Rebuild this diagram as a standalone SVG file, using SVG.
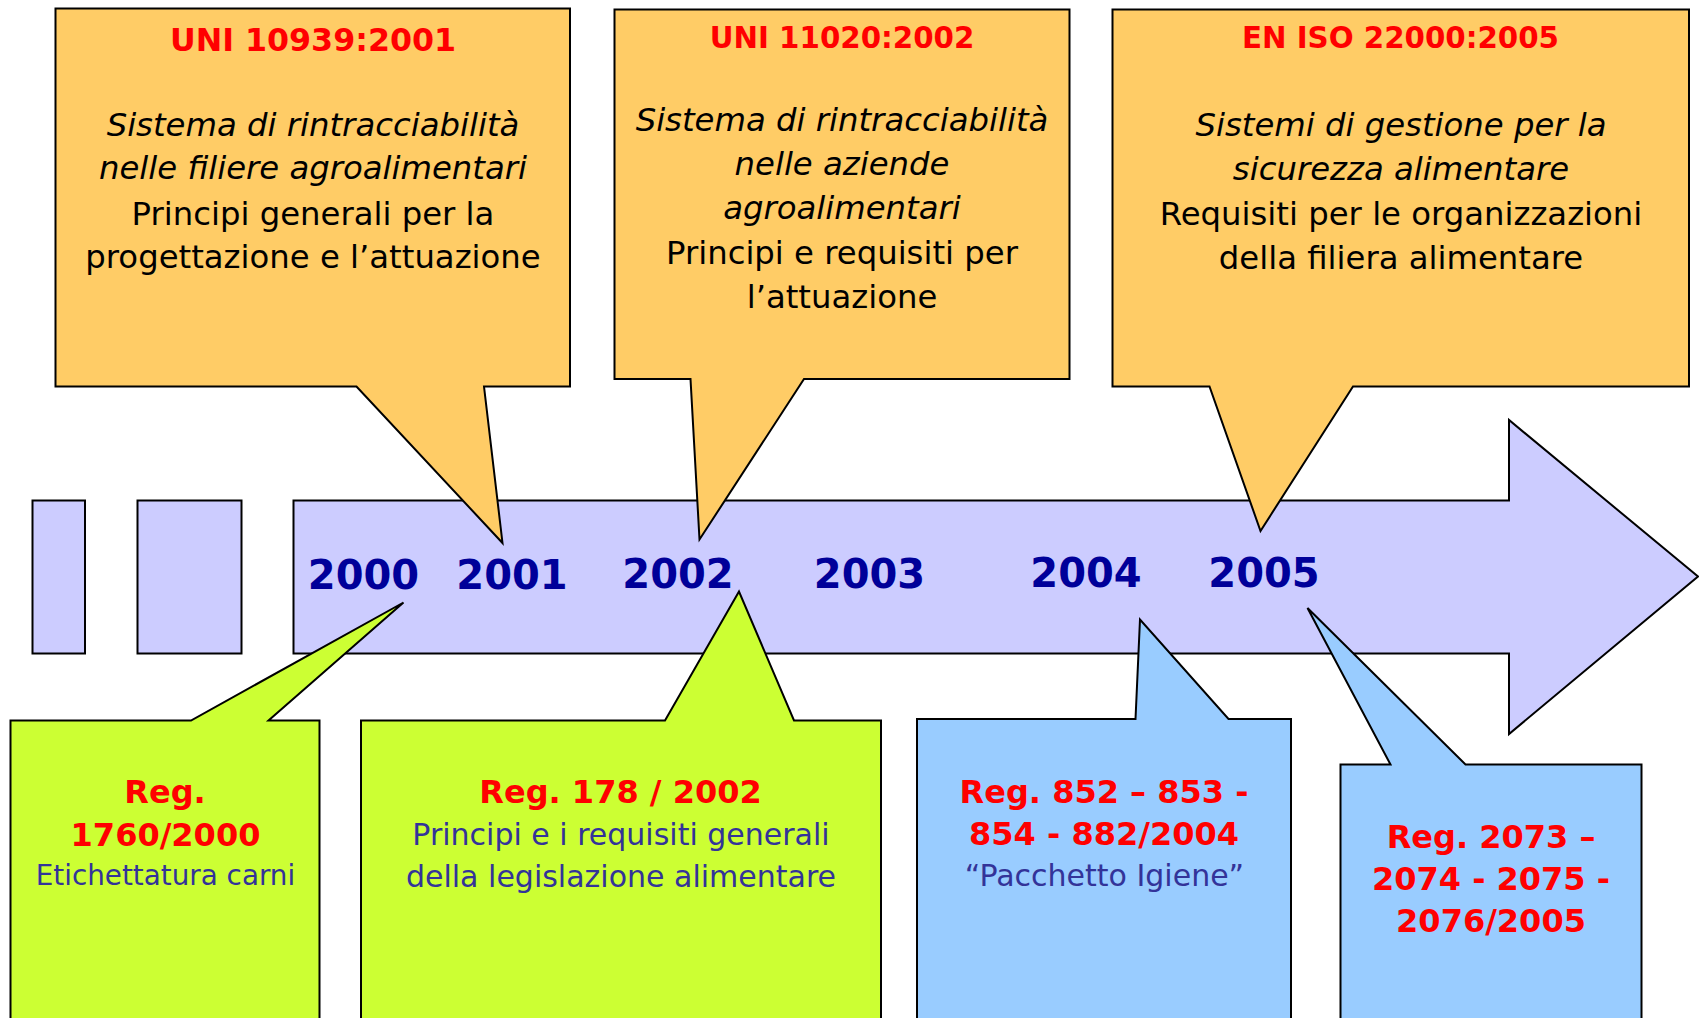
<svg xmlns="http://www.w3.org/2000/svg" width="1699" height="1018" viewBox="0 0 1699 1018">
<style>
  .shape { stroke: #000000; stroke-width: 2; stroke-linejoin: miter; }
  .lav { fill: #CCCCFF; }
  .orange { fill: #FFCC66; }
  .green { fill: #CCFF33; }
  .blue { fill: #99CCFF; }
  text { font-family: "DejaVu Sans", "Verdana", sans-serif; text-anchor: middle; }
  .title { font-weight: bold; fill: #FF0000; }
  .body { font-size: 32.3px; fill: #000000; }
  .it { font-style: italic; }
  .year { font-weight: bold; font-size: 40px; fill: #000099; }
  .red { font-weight: bold; font-size: 32px; fill: #FF0000; }
  .navy { font-size: 30px; fill: #333399; }
</style>
<rect width="1699" height="1018" fill="#FFFFFF"/>

<g id="timeline">
  <rect class="shape lav" x="32.5" y="500.5" width="52.5" height="153"/>
  <rect class="shape lav" x="137.5" y="500.5" width="104" height="153"/>
  <path class="shape lav" d="M293.5,500.5 H1509 V420 L1698,576.5 L1509,734 V653.5 H293.5 Z"/>
</g>

<g id="uni10939">
  <path class="shape orange" d="M55.5,8.5 H570 V386.5 H484 L502.5,543 L356.5,386.5 H55.5 Z"/>
  <text class="title" x="313" y="51" style="font-size:31.7px">UNI 10939:2001</text>
  <text class="body it" x="313" y="135.5">Sistema di rintracciabilità</text>
  <text class="body it" x="313" y="179">nelle filiere agroalimentari</text>
  <text class="body" x="313" y="225">Principi generali per la</text>
  <text class="body" x="313" y="268">progettazione e l’attuazione</text>
</g>

<g id="uni11020">
  <path class="shape orange" d="M614.5,9.5 H1069.5 V379 H804 L699.5,539.5 L690.5,379 H614.5 Z"/>
  <text class="title" x="842" y="48" style="font-size:29.3px">UNI 11020:2002</text>
  <text class="body it" x="842" y="130.5">Sistema di rintracciabilità</text>
  <text class="body it" x="842" y="174.5">nelle aziende</text>
  <text class="body it" x="842" y="218.5">agroalimentari</text>
  <text class="body" x="842" y="264">Principi e requisiti per</text>
  <text class="body" x="842" y="308">l’attuazione</text>
</g>

<g id="iso22000">
  <path class="shape orange" d="M1112.5,9.5 H1689 V386.5 H1353 L1260.5,531 L1209.5,386.5 H1112.5 Z"/>
  <text class="title" x="1400.5" y="48" style="font-size:29.3px">EN ISO 22000:2005</text>
  <text class="body it" x="1401" y="135.5">Sistemi di gestione per la</text>
  <text class="body it" x="1401" y="180">sicurezza alimentare</text>
  <text class="body" x="1401" y="225">Requisiti per le organizzazioni</text>
  <text class="body" x="1401" y="268.5">della filiera alimentare</text>
</g>

<g id="reg1760">
  <path class="shape green" d="M10.5,720.5 H191 L403.5,602.5 L268.5,720.5 H319.5 V1030 H10.5 Z"/>
  <text class="red" x="165" y="802.5">Reg.</text>
  <text class="red" x="165.5" y="845.5">1760/2000</text>
  <text class="navy" x="165.5" y="885" style="font-size:27.8px">Etichettatura carni</text>
</g>

<g id="reg178">
  <path class="shape green" d="M361,720.5 H665 L739,591.5 L794,720.5 H881 V1030 H361 Z"/>
  <text class="red" x="620.5" y="802.5">Reg. 178 / 2002</text>
  <text class="navy" x="621" y="845">Principi e i requisiti generali</text>
  <text class="navy" x="621" y="886.5">della legislazione alimentare</text>
</g>

<g id="reg852">
  <path class="shape blue" d="M917,719 H1135.5 L1140,619.5 L1228.5,719 H1291 V1030 H917 Z"/>
  <text class="red" x="1104" y="802.5">Reg. 852 – 853 -</text>
  <text class="red" x="1104" y="844.5">854 - 882/2004</text>
  <text class="navy" x="1104.5" y="885.5">“Pacchetto Igiene”</text>
</g>

<g id="reg2073">
  <path class="shape blue" d="M1340.5,764.5 H1390.5 L1307.5,608 L1465.5,764.5 H1641.5 V1030 H1340.5 Z"/>
  <text class="red" x="1491" y="848">Reg. 2073 –</text>
  <text class="red" x="1491" y="890">2074 - 2075 -</text>
  <text class="red" x="1491" y="931.5">2076/2005</text>
</g>

<g id="years">
  <text class="year" x="363.5" y="589">2000</text>
  <text class="year" x="512" y="589">2001</text>
  <text class="year" x="678" y="587.5">2002</text>
  <text class="year" x="869.5" y="587.5">2003</text>
  <text class="year" x="1086" y="587">2004</text>
  <text class="year" x="1264" y="587">2005</text>
</g>
</svg>
